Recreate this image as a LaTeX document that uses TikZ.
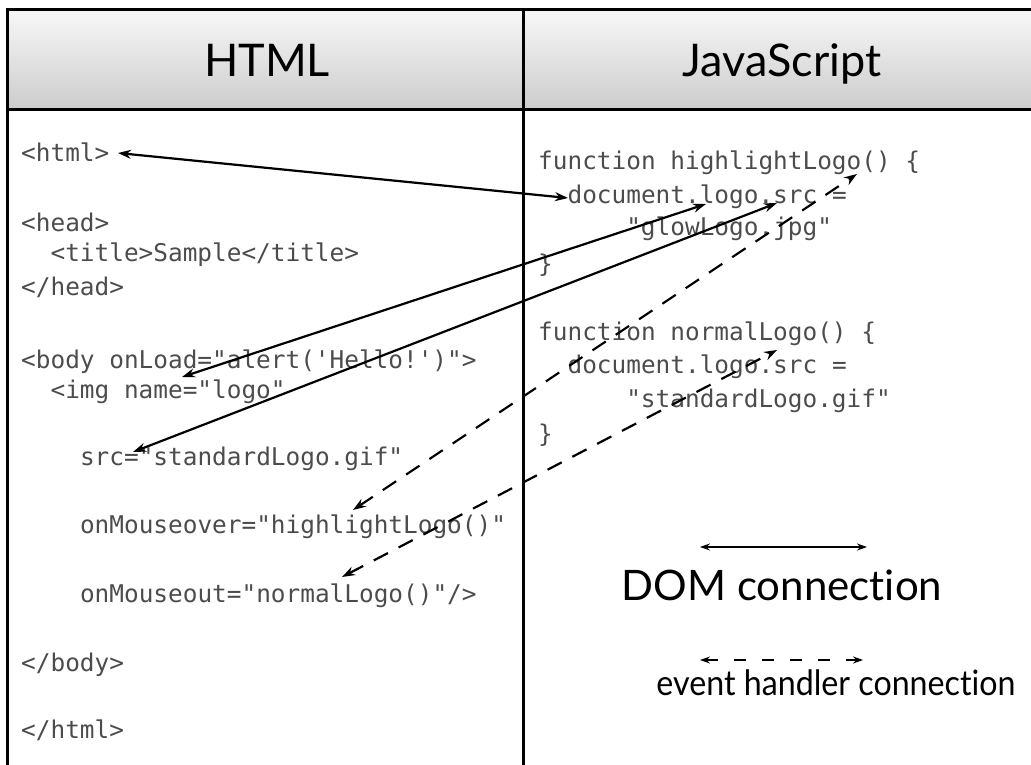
\documentclass[tikz,border=0pt]{standalone}
\usepackage{fontspec}
\setmainfont{Lato}[Ligatures={TeX,NoCommon}]
\newfontfamily\narrowfont{Lato}[Ligatures={TeX,NoCommon}, FakeStretch=0.92]
\setmonofont{DejaVu Sans Mono}
\usetikzlibrary{arrows.meta}

\definecolor{codegray}{HTML}{4C4C4C}

\tikzset{
  frame/.style={line width=3pt},
  code/.style={anchor=base west, inner sep=0pt, text=codegray,
    font=\ttfamily\fontsize{24.4}{24.4}\selectfont},
  colhead/.style={anchor=base, inner sep=0pt, font=\fontsize{45}{45}\selectfont},
  dom/.style={{Stealth[length=13pt,width=9pt]}-{Stealth[length=13pt,width=9pt]}, line width=2.2pt},
  handler/.style={dom, dash pattern=on 16pt off 12pt},
  keyline/.style={{Stealth[length=10pt,width=7pt]}-{Stealth[length=10pt,width=7pt]}, line width=1.5pt},
  keytext/.style={anchor=base, inner sep=0pt},
}

\begin{document}
\begin{tikzpicture}[x=1pt,y=-1pt]
\useasboundingbox (0,0) rectangle (1031,765);

% header row and column frame
\shade[top color=white!97!black, bottom color=white!80!black] (7.5,10) rectangle (1031,109.5);
\draw[frame] (7.5,765) -- (7.5,10) -- (1031,10);
\draw[frame] (7.5,109.5) -- (1031,109.5);
\draw[frame] (523.5,10) -- (523.5,765);

\node[colhead] (htmlhead) at (267,77) {HTML};
\node[colhead] (jshead) at (782,77) {JavaScript};

% page source
\node[code] (htmlopen)  at (21,161)    {<html>};
\node[code] (headopen)  at (21,231)    {<head>};
\node[code] (title)     at (50.4,261)  {<title>Sample</title>};
\node[code] (headclose) at (21,295)    {</head>};
\node[code] (bodyopen)  at (21,368)    {<body onLoad="alert('Hello!')">};
\node[code] (imgname)   at (50.4,398)  {<img name="logo"};
\node[code] (imgsrc)    at (79.8,465)  {src="standardLogo.gif"};
\node[code] (mouseover) at (79.8,533)  {onMouseover="highlightLogo()"};
\node[code] (mouseout)  at (79.8,602)  {onMouseout="normalLogo()"/>};
\node[code] (bodyclose) at (21,671)    {</body>};
\node[code] (htmlclose) at (21,738)    {</html>};

% script
\node[code] (fnhigh)      at (538,170)   {function highlightLogo() \{};
\node[code] (glowsrc)     at (567.4,203) {document.logo.src =};
\node[code] (glowval)     at (626.1,235) {"glowLogo.jpg"};
\node[code] (closehigh)   at (538,272)   {\}};
\node[code] (fnnormal)    at (538,340)   {function normalLogo() \{};
\node[code] (normsrc)     at (567.4,373) {document.logo.src =};
\node[code] (normval)     at (626.1,407) {"standardLogo.gif"};
\node[code] (closenormal) at (538,442)   {\}};

% arrow ends
\coordinate (domhtmlL) at (118,153);
\coordinate (domhtmlR) at (568,198);
\coordinate (domimgL)  at (182,377);
\coordinate (domimgR)  at (706,204);
\coordinate (domsrcL)  at (133,452);
\coordinate (domsrcR)  at (777,203);
\coordinate (evoverL)  at (353,510);
\coordinate (evoverR)  at (857,174);
\coordinate (evoutL)   at (342,577);
\coordinate (evoutR)   at (777,350);

\draw[dom] (domhtmlL) -- (domhtmlR);
\draw[dom] (domimgL) -- (domimgR);
\draw[dom] (domsrcL) -- (domsrcR);
\draw[handler] (evoverL) -- (evoverR);
\draw[handler] (evoutL) -- (evoutR);

% key
\coordinate (keydomL) at (700,547);
\coordinate (keydomR) at (867,547);
\coordinate (keyevL)  at (700,660);
\coordinate (keyevR)  at (863,660);
\draw[keyline] (keydomL) -- (keydomR);
\draw[keyline, dash pattern=on 12pt off 16pt] (keyevL) -- (keyevR);
\node[keytext, font=\fontsize{42}{42}\selectfont] (domkey) at (782,600) {DOM connection};
\node[keytext, font=\narrowfont\fontsize{35}{35}\selectfont] (evkey) at (836,695) {event handler connection};
\end{tikzpicture}
\end{document}
